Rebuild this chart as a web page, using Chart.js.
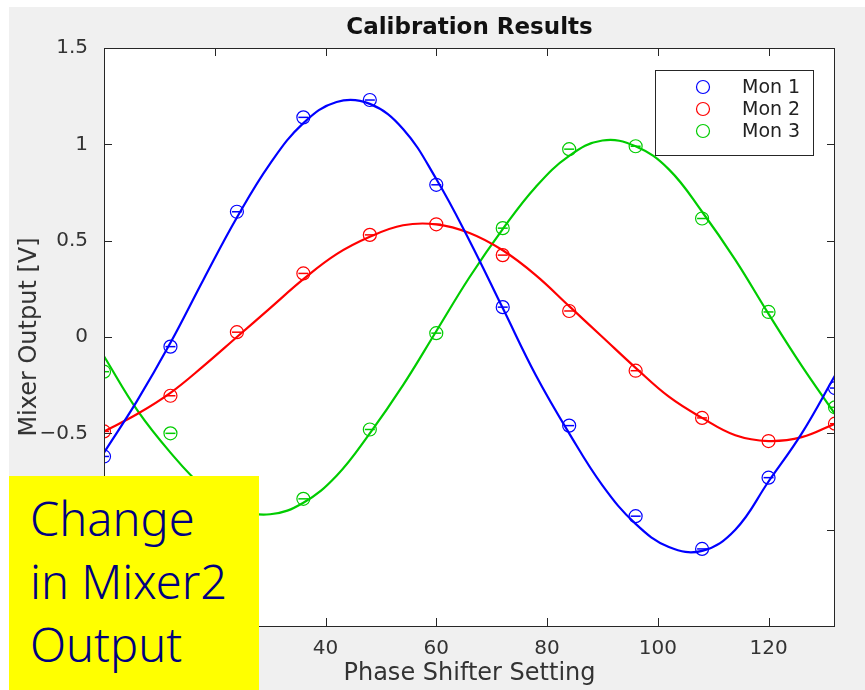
<!DOCTYPE html>
<html>
<head>
<meta charset="utf-8">
<script src="https://cdn.jsdelivr.net/npm/chart.js@4/dist/chart.umd.min.js"></script>
<style>
  body { margin: 0; background: #fff; }
  #wrap { position: absolute; left: 9px; top: 7px; width: 856px; height: 683px; background: #f0f0f0; }
  #note {
    position: absolute; left: 9px; top: 476px; width: 250px; height: 214px;
    background: #ffff00; color: #000080;
    font-family: "Noto Sans", sans-serif; font-weight: 300; font-size: 47px; line-height: 63px;
    box-sizing: border-box; padding: 11px 0 0 21px;
  }
</style>
</head>
<body>
<div id="wrap"><canvas id="myChart" width="856" height="683"></canvas></div>
<div id="note">Change<br>in Mixer2<br>Output</div>
<script>
// measured points (phase shifter setting)
var xValues = [0, 12, 24, 36, 48, 60, 72, 84, 96, 108, 120, 132];
var mon1 = [-0.62, -0.05, 0.65, 1.14, 1.23, 0.79, 0.155, -0.46, -0.93, -1.10, -0.73, -0.265];
var mon2 = [-0.49, -0.305, 0.025, 0.33, 0.53, 0.585, 0.425, 0.135, -0.175, -0.42, -0.54, -0.45];
var mon3 = [-0.18, -0.50, -0.90, -0.84, -0.48, 0.02, 0.565, 0.975, 0.99, 0.615, 0.13, -0.365];

// fitted curves
var fitX = [0, 6, 12, 18, 24, 30, 36, 42, 48, 54, 60, 66, 72, 78, 84, 90, 96, 102, 108, 114, 120, 126, 132];
var fit1 = [-0.60, -0.33, -0.03, 0.30, 0.62, 0.90, 1.11, 1.22, 1.21, 1.08, 0.82, 0.50, 0.15, -0.20, -0.50, -0.77, -0.97, -1.09, -1.11, -1.00, -0.75, -0.50, -0.20];
var fit2 = [-0.49, -0.40, -0.29, -0.15, 0.00, 0.15, 0.30, 0.43, 0.52, 0.58, 0.585, 0.54, 0.45, 0.32, 0.16, 0.00, -0.16, -0.31, -0.42, -0.51, -0.54, -0.52, -0.45];
var fit3 = [-0.10, -0.38, -0.60, -0.78, -0.89, -0.92, -0.86, -0.72, -0.50, -0.25, 0.03, 0.31, 0.56, 0.78, 0.94, 1.02, 0.99, 0.87, 0.65, 0.40, 0.12, -0.15, -0.40];

var seriesNames = ["Mon 1", "Mon 2", "Mon 3"];
var colors = ["#0000ff", "#ff0000", "#00cc00"];

function pts(xs, ys) {
  return xs.map(function (x, i) { return { x: x, y: ys[i] }; });
}

var fits = [fit1, fit2, fit3];
var mons = [mon1, mon2, mon3];
var datasets = [];

// fit lines
for (var i = 0; i < 3; i++) {
  datasets.push({
    data: pts(fitX, fits[i]),
    showLine: true,
    borderColor: colors[i],
    borderWidth: 2.2,
    pointRadius: 0,
    tension: 0.4,
    kind: "fit"
  });
}
// circle markers
for (var i = 0; i < 3; i++) {
  datasets.push({
    label: seriesNames[i],
    data: pts(xValues, mons[i]),
    borderColor: colors[i],
    backgroundColor: "transparent",
    pointStyle: "circle",
    pointRadius: 6.5,
    pointBorderWidth: 1.2,
    kind: "mon"
  });
}
// little bars through the markers
for (var i = 0; i < 3; i++) {
  datasets.push({
    data: pts(xValues, mons[i]),
    borderColor: colors[i],
    pointStyle: "line",
    pointRadius: 5,
    pointBorderWidth: 1.5,
    kind: "bar"
  });
}

var frame = {
  id: "frame",
  beforeDraw: function (chart) {
    var c = chart.ctx, a = chart.chartArea;
    c.save();
    c.fillStyle = "#fff";
    c.fillRect(a.left, a.top, a.right - a.left, a.bottom - a.top);
    c.restore();
  },
  afterDraw: function (chart) {
    var c = chart.ctx, a = chart.chartArea;
    var sx = chart.scales.x, sy = chart.scales.y;
    c.save();
    c.strokeStyle = "#262626";
    c.lineWidth = 1;
    c.strokeRect(a.left + 0.5, a.top + 0.5, a.right - a.left - 1, a.bottom - a.top);
    c.beginPath();
    sx.ticks.forEach(function (t) {
      var p = Math.round(sx.getPixelForValue(t.value)) + 0.5;
      c.moveTo(p, a.bottom); c.lineTo(p, a.bottom - 8);
      c.moveTo(p, a.top); c.lineTo(p, a.top + 8);
    });
    sy.ticks.forEach(function (t) {
      var p = Math.round(sy.getPixelForValue(t.value)) + 0.5;
      c.moveTo(a.left, p); c.lineTo(a.left + 8, p);
      c.moveTo(a.right, p); c.lineTo(a.right - 8, p);
    });
    c.stroke();

    // title
    c.fillStyle = "#111";
    c.font = "bold 23px 'DejaVu Sans'";
    c.textAlign = "center";
    c.textBaseline = "middle";
    c.fillText("Calibration Results", (a.left + a.right) / 2, 21);

    // legend
    var bw = 158, bh = 85;
    var bx = a.right - 22 - bw, by = a.top + 22;
    c.fillStyle = "#fff";
    c.fillRect(bx, by, bw, bh);
    c.strokeStyle = "#262626";
    c.strokeRect(bx + 0.5, by + 0.5, bw, bh);
    c.font = "19px 'DejaVu Sans'";
    c.textAlign = "left";
    chart.data.datasets.forEach(function (d) {
      if (d.kind !== "mon") return;
      var k = seriesNames.indexOf(d.label);
      var ry = by + 17 + k * 22;
      c.beginPath();
      c.strokeStyle = d.borderColor;
      c.lineWidth = 1.2;
      c.arc(bx + 48, ry, 6.5, 0, Math.PI * 2);
      c.stroke();
      c.fillStyle = "#222";
      c.fillText(d.label, bx + 87, ry + 1);
    });
    c.restore();
  }
};

var totalChart = new Chart("myChart", {
  type: "scatter",
  data: { datasets: datasets },
  options: {
    responsive: false,
    animation: false,
    devicePixelRatio: 1,
    layout: { padding: { top: 41, right: 30, left: 0, bottom: 0 } },
    plugins: { legend: { display: false }, tooltip: { enabled: false } },
    scales: {
      x: {
        type: "linear",
        min: 0, max: 132,
        afterFit: function (s) { s.height = 64; },
        grid: { display: false },
        border: { display: false },
        ticks: { stepSize: 20, includeBounds: false, padding: 3, color: "#333", font: { family: "DejaVu Sans", size: 20 } },
        title: { display: true, text: "Phase Shifter Setting", color: "#333", padding: { top: 0, bottom: 2 }, font: { family: "DejaVu Sans", size: 24 } }
      },
      y: {
        min: -1.5, max: 1.5,
        afterFit: function (s) { s.width = 95; },
        grid: { display: false },
        border: { display: false },
        ticks: {
          stepSize: 0.5, padding: 8, color: "#333", font: { family: "DejaVu Sans", size: 20 },
          callback: function (v) { return String(v).replace("-", "\u2212"); }
        },
        title: { display: true, text: "Mixer Output [V]", color: "#333", padding: { top: 6, bottom: 0 }, font: { family: "DejaVu Sans", size: 24 } }
      }
    }
  },
  plugins: [frame]
});
</script>
</body>
</html>
